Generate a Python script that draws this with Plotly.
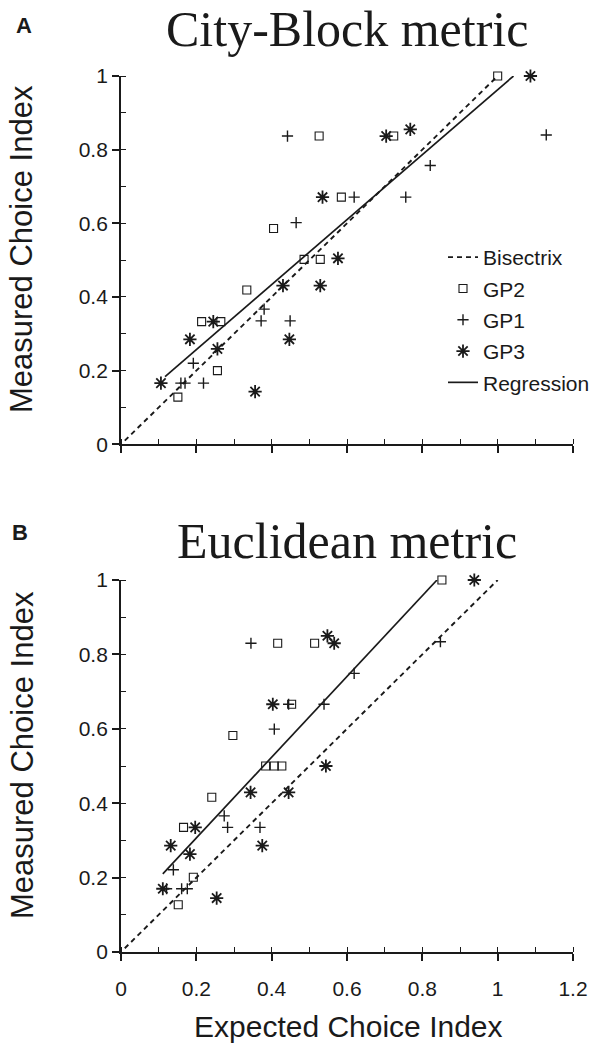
import plotly.graph_objects as go

# ---------------- data ----------------
# Panel A: City-Block metric
a_gp2_x = [1.0, 0.526, 0.724, 0.585, 0.405, 0.486, 0.529, 0.334, 0.214, 0.265, 0.256, 0.151]
a_gp2_y = [1.0, 0.837, 0.837, 0.671, 0.586, 0.502, 0.502, 0.419, 0.333, 0.333, 0.200, 0.128]
a_gp1_x = [0.442, 1.129, 0.821, 0.756, 0.619, 0.465, 0.380, 0.372, 0.449, 0.192, 0.159, 0.170, 0.219]
a_gp1_y = [0.837, 0.840, 0.757, 0.671, 0.671, 0.602, 0.367, 0.335, 0.335, 0.220, 0.166, 0.166, 0.166]
a_gp3_x = [1.087, 0.768, 0.704, 0.535, 0.576, 0.430, 0.529, 0.245, 0.183, 0.447, 0.256, 0.106, 0.356]
a_gp3_y = [1.0, 0.855, 0.837, 0.671, 0.505, 0.431, 0.431, 0.333, 0.285, 0.285, 0.259, 0.166, 0.143]
a_bis_x = [0.01, 1.0]
a_bis_y = [0.01, 1.0]
a_reg_x = [0.117, 1.042]
a_reg_y = [0.184, 1.0]

# Panel B: Euclidean metric
b_gp2_x = [0.852, 0.416, 0.514, 0.453, 0.297, 0.384, 0.407, 0.427, 0.241, 0.166, 0.192, 0.152]
b_gp2_y = [1.0, 0.830, 0.830, 0.666, 0.582, 0.500, 0.500, 0.500, 0.416, 0.335, 0.201, 0.127]
b_gp1_x = [0.345, 0.848, 0.619, 0.539, 0.445, 0.407, 0.274, 0.283, 0.369, 0.139, 0.161, 0.176, 0.121]
b_gp1_y = [0.830, 0.834, 0.749, 0.666, 0.666, 0.599, 0.366, 0.335, 0.335, 0.221, 0.170, 0.170, 0.170]
b_gp3_x = [0.938, 0.548, 0.566, 0.403, 0.544, 0.344, 0.445, 0.197, 0.132, 0.375, 0.183, 0.111, 0.254]
b_gp3_y = [1.0, 0.850, 0.830, 0.666, 0.500, 0.429, 0.429, 0.335, 0.286, 0.286, 0.263, 0.170, 0.145]
b_bis_x = [0.01, 1.0]
b_bis_y = [0.01, 1.0]
b_reg_x = [0.111, 0.839]
b_reg_y = [0.210, 1.0]

x_range = [0, 1.2]
y_range = [0, 1]
titles = ["City-Block metric", "Euclidean metric"]
panel_letters = ["A", "B"]
x_title = "Expected Choice Index"
y_title = "Measured Choice Index"

# ---------------- layout geometry ----------------
W, H = 594, 1054
ML, MR, MT, MB = 121, 21, 76, 102
PW = W - ML - MR
PH = H - MT - MB
TOP_BOTTOM_PX = 444.3
BOT_TOP_PX = 580


def py(px):
    return (H - MB - px) / PH


def pxx(px):
    return (px - ML) / PW


top_dom = [py(TOP_BOTTOM_PX), 1.0]
bot_dom = [0.0, py(BOT_TOP_PX)]

SANS = "Liberation Sans, Arial, sans-serif"
SERIF = "Liberation Serif, Times New Roman, serif"
INK = "#1a1a1a"

fig = go.Figure()

panels = [
    ("x", "y", a_bis_x, a_bis_y, a_gp2_x, a_gp2_y, a_gp1_x, a_gp1_y, a_gp3_x, a_gp3_y, a_reg_x, a_reg_y, True),
    ("x2", "y2", b_bis_x, b_bis_y, b_gp2_x, b_gp2_y, b_gp1_x, b_gp1_y, b_gp3_x, b_gp3_y, b_reg_x, b_reg_y, False),
]

for (xa, ya, bx, by, g2x, g2y, g1x, g1y, g3x, g3y, rx, ry, leg) in panels:
    fig.add_trace(go.Scatter(x=bx, y=by, mode="lines", name="Bisectrix", legendgroup="bis",
                             showlegend=leg, line=dict(color=INK, width=1.9, dash="5px,4px"),
                             xaxis=xa, yaxis=ya, cliponaxis=False, hoverinfo="skip"))
    fig.add_trace(go.Scatter(x=g2x, y=g2y, mode="markers", name="GP2", legendgroup="gp2",
                             showlegend=leg,
                             marker=dict(symbol="square-open", size=8, color=INK, line=dict(width=1.1, color=INK)),
                             xaxis=xa, yaxis=ya, cliponaxis=False))
    fig.add_trace(go.Scatter(x=g1x, y=g1y, mode="markers", name="GP1", legendgroup="gp1",
                             showlegend=leg,
                             marker=dict(symbol="cross-thin-open", size=8, color=INK, line=dict(width=1.4, color=INK)),
                             xaxis=xa, yaxis=ya, cliponaxis=False))
    fig.add_trace(go.Scatter(x=g3x, y=g3y, mode="markers", name="GP3", legendgroup="gp3",
                             showlegend=leg,
                             marker=dict(symbol="asterisk-open", size=11, color=INK, line=dict(width=1.8, color=INK)),
                             xaxis=xa, yaxis=ya, cliponaxis=False))
    fig.add_trace(go.Scatter(x=rx, y=ry, mode="lines", name="Regression", legendgroup="reg",
                             showlegend=leg, line=dict(color=INK, width=1.7),
                             xaxis=xa, yaxis=ya, cliponaxis=False, hoverinfo="skip"))

tickfont = dict(family=SANS, size=21, color=INK)
minor = dict(ticks="inside", ticklen=5, tickwidth=1.3, tickcolor=INK, dtick=0.1, tick0=0, showgrid=False)
main_x = dict(range=x_range, dtick=0.2, tick0=0, ticks="outside", ticklen=7, tickwidth=1.6,
              tickcolor=INK, showline=True, linecolor=INK, linewidth=1.9, showgrid=False,
              zeroline=False, tickfont=tickfont, fixedrange=True, minor=minor)
main_y = dict(range=y_range, dtick=0.2, tick0=0, ticks="outside", ticklen=7, tickwidth=1.6,
              tickcolor=INK, showline=True, linecolor=INK, linewidth=1.9, showgrid=False,
              zeroline=False, tickfont=tickfont, fixedrange=True, minor=minor)

fig.update_layout(
    width=W, height=H,
    margin=dict(l=ML, r=MR, t=MT, b=MB, autoexpand=False),
    paper_bgcolor="white", plot_bgcolor="white",
    xaxis=dict(main_x, domain=[0, 1], anchor="y", showticklabels=False),
    yaxis=dict(main_y, domain=top_dom, anchor="x"),
    xaxis2=dict(main_x, domain=[0, 1], anchor="y2", ticklabelstandoff=10),
    yaxis2=dict(main_y, domain=bot_dom, anchor="x2"),
    showlegend=True,
    legend=dict(x=pxx(443), y=py(237), xanchor="left", yanchor="top",
                font=dict(family=SANS, size=21, color=INK),
                bgcolor="rgba(0,0,0,0)", borderwidth=0,
                traceorder="grouped", tracegroupgap=1),
)

ann = []
# panel titles
for t, cy in zip(titles, (29, 541)):
    ann.append(dict(text=t, x=pxx(347), y=py(cy), xref="paper", yref="paper",
                    xanchor="center", yanchor="middle", showarrow=False,
                    font=dict(family=SERIF, size=50, color=INK)))
# panel letters
for t, cx, cy in zip(panel_letters, (24, 20), (25, 532)):
    ann.append(dict(text="<b>%s</b>" % t, x=pxx(cx), y=py(cy), xref="paper", yref="paper",
                    xanchor="center", yanchor="middle", showarrow=False,
                    font=dict(family=SANS, size=22, color=INK)))
# y axis titles
for cy in (249, 755):
    ann.append(dict(text=y_title, x=pxx(22), y=py(cy), xref="paper", yref="paper",
                    xanchor="center", yanchor="middle", textangle=-90, showarrow=False,
                    font=dict(family=SANS, size=31, color=INK)))
# x axis title
ann.append(dict(text=x_title, x=pxx(348), y=py(1026), xref="paper", yref="paper",
                xanchor="center", yanchor="middle", showarrow=False,
                font=dict(family=SANS, size=30, color=INK)))
fig.update_layout(annotations=ann)

fig.write_html("out.html")
